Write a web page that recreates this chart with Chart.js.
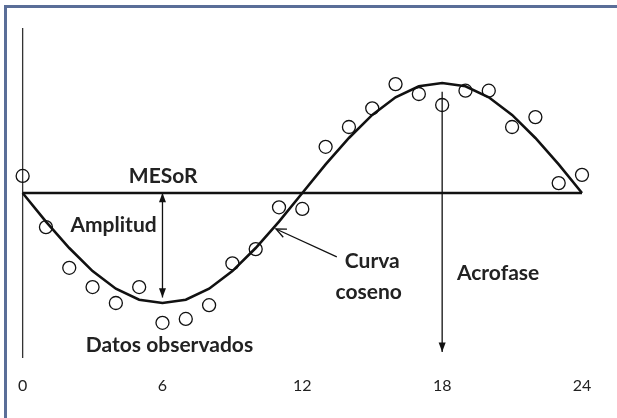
<!DOCTYPE html>
<html>
<head>
<meta charset="utf-8">
<script src="https://cdn.jsdelivr.net/npm/chart.js@4"></script>
<style>
  body { margin: 0; background: #fff; overflow: hidden; }
  #wrap { position: relative; width: 617px; height: 418px; overflow: hidden; }
  #frame { position: absolute; left: 4px; top: 5px; width: 620px; height: 420px;
           border-left: 3px solid #5a6e98; border-top: 3px solid #5a6e98; pointer-events: none; }
  canvas { position: absolute; left: 0; top: 0; }
</style>
</head>
<body>
<div id="wrap">
  <canvas id="chart" width="617" height="418"></canvas>
  <div id="frame"></div>
</div>
<script>
// hours 0..24
const hours = [0, 1, 2, 3, 4, 5, 6, 7, 8, 9, 10, 11, 12, 13, 14, 15, 16, 17, 18, 19, 20, 21, 22, 23, 24];
// fitted cosine curve (MESoR = 0, amplitude = 1)
const curve = [0, -0.26, -0.5, -0.71, -0.87, -0.97, -1, -0.97, -0.87, -0.71, -0.5, -0.26, 0,
  0.26, 0.5, 0.71, 0.87, 0.97, 1, 0.97, 0.87, 0.71, 0.5, 0.26, 0];
// observed data points
const observed = [0.155, -0.31, -0.68, -0.855, -1.0, -0.855, -1.18, -1.145, -1.02, -0.64, -0.51, -0.13, -0.145,
  0.42, 0.6, 0.77, 0.99, 0.9, 0.8, 0.93, 0.93, 0.6, 0.69, 0.09, 0.165];
const mesorX = [0, 24];
const mesorY = [0, 0];
const xTicks = [0, 6, 12, 18, 24];

// arrows: [x1, y1, x2, y2, heads]
const arrows = [
  [6, 0, 6, -0.95, 'both'],
  [18, 0.92, 18, -1.445, 'end'],
  [13.48, -0.58, 10.87, -0.327, 'open']
];
// labels: [text, x, y]
const labels = [
  ['MESoR', 6.03, 0.15],
  ['Amplitud', 3.9, -0.29],
  ['Datos observados', 6.3, -1.38],
  ['Curva', 15.0, -0.62],
  ['coseno', 14.85, -0.9],
  ['Acrofase', 20.4, -0.73]
];

function pts(xs, ys) {
  return xs.map((x, i) => ({x: x, y: ys[i]}));
}

function head(ctx, x1, y1, x2, y2, filled) {
  const a = Math.atan2(y2 - y1, x2 - x1);
  const len = filled ? 10 : 11, w = filled ? 0.36 : 0.42;
  ctx.beginPath();
  ctx.moveTo(x2 - len * Math.cos(a - w), y2 - len * Math.sin(a - w));
  ctx.lineTo(x2, y2);
  ctx.lineTo(x2 - len * Math.cos(a + w), y2 - len * Math.sin(a + w));
  if (filled) { ctx.closePath(); ctx.fill(); } else { ctx.stroke(); }
}

const extras = {
  id: 'extras',
  beforeDatasetsDraw(chart) {
    const {ctx, chartArea, scales: {x}} = chart;
    ctx.save();
    // vertical axis
    ctx.strokeStyle = '#333';
    ctx.lineWidth = 1.3;
    ctx.beginPath();
    ctx.moveTo(x.getPixelForValue(0), chartArea.top);
    ctx.lineTo(x.getPixelForValue(0), chartArea.bottom);
    ctx.stroke();
    ctx.restore();
  },
  afterDatasetsDraw(chart) {
    const {ctx, scales: {x, y}} = chart;
    ctx.save();
    ctx.strokeStyle = '#111';
    ctx.fillStyle = '#111';
    ctx.lineWidth = 1.3;
    arrows.forEach(a => {
      const x1 = x.getPixelForValue(a[0]), y1 = y.getPixelForValue(a[1]);
      const x2 = x.getPixelForValue(a[2]), y2 = y.getPixelForValue(a[3]);
      ctx.beginPath();
      ctx.moveTo(x1, y1);
      ctx.lineTo(x2, y2);
      ctx.stroke();
      if (a[4] === 'open') {
        head(ctx, x1, y1, x2, y2, false);
      } else {
        head(ctx, x1, y1, x2, y2, true);
        if (a[4] === 'both') head(ctx, x2, y2, x1, y1, true);
      }
    });
    ctx.fillStyle = '#222';
    ctx.font = 'bold 21px Lato';
    ctx.textAlign = 'center';
    ctx.textBaseline = 'middle';
    labels.forEach(l => {
      ctx.fillText(l[0], x.getPixelForValue(l[1]), y.getPixelForValue(l[2]));
    });
    ctx.restore();
  }
};

new Chart(document.getElementById('chart'), {
  type: 'scatter',
  data: {
    datasets: [
      {
        label: 'Datos observados',
        data: pts(hours, observed),
        showLine: false,
        pointStyle: 'circle',
        pointRadius: 6.5,
        borderColor: '#111',
        borderWidth: 1.3,
        backgroundColor: 'rgba(0,0,0,0)',
        clip: false,
        order: 0
      },
      {
        label: 'Curva coseno',
        data: pts(hours, curve),
        showLine: true,
        pointRadius: 0,
        borderColor: '#111',
        borderWidth: 2.6,
        tension: 0,
        clip: false,
        order: 1
      },
      {
        label: 'MESoR',
        data: pts(mesorX, mesorY),
        showLine: true,
        pointRadius: 0,
        borderColor: '#111',
        borderWidth: 2.4,
        clip: false,
        order: 2
      }
    ]
  },
  options: {
    responsive: false,
    animation: false,
    devicePixelRatio: 1,
    layout: {padding: {left: 22, right: 35, top: 28, bottom: 0}},
    plugins: {legend: {display: false}, tooltip: {enabled: false}},
    scales: {
      x: {
        type: 'linear',
        min: 0,
        max: 24,
        afterBuildTicks: s => { s.ticks = xTicks.map(v => ({value: v})); },
        afterFit: s => { s.height = 60; },
        grid: {display: false, drawTicks: false},
        border: {display: false},
        ticks: {color: '#222', font: {family: 'Lato', size: 16}, padding: 18, maxRotation: 0}
      },
      y: {
        type: 'linear',
        min: -1.5,
        max: 1.5,
        display: false
      }
    }
  },
  plugins: [extras]
});
</script>
</body>
</html>
